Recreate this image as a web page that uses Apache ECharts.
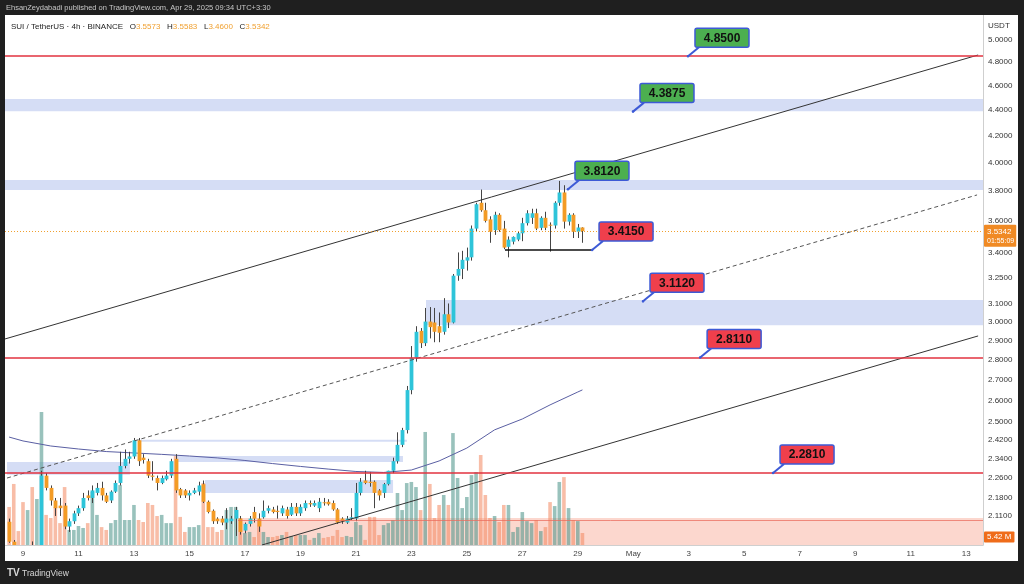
<!DOCTYPE html>
<html>
<head>
<meta charset="utf-8">
<script src="https://cdn.jsdelivr.net/npm/echarts@6/dist/echarts.min.js"></script>
<style>
html,body{margin:0;padding:0;background:#1f1f1f;}
#c{width:1024px;height:584px;}
</style>
</head>
<body>
<div id="c"></div>
<script>
// ---------- DATA ----------
const FIRST_CANDLE = '2025-04-08 12:00';   // 4h candles
const CANDLE_HOURS = 4;
const opens  = [2.088,2.014,1.97,1.93,1.90,1.96,1.94,1.99,2.27,2.22,2.17,2.15,2.15,2.07,2.09,2.12,2.14,2.19,2.18,2.20,2.22,2.19,2.17,2.205,2.24,2.31,2.34,2.35,2.42,2.345,2.33,2.27,2.26,2.24,2.255,2.27,2.34,2.215,2.21,2.19,2.20,2.205,2.235,2.165,2.13,2.10,2.10,2.085,2.09,2.10,2.10,2.055,2.08,2.125,2.10,2.105,2.13,2.135,2.13,2.12,2.135,2.115,2.145,2.12,2.14,2.16,2.15,2.14,2.163,2.165,2.16,2.135,2.10,2.085,2.10,2.10,2.20,2.25,2.245,2.245,2.21,2.20,2.235,2.29,2.33,2.40,2.465,2.65,2.81,2.95,2.885,3.0,2.995,2.975,2.945,3.04,2.995,3.26,3.30,3.35,3.37,3.55,3.72,3.67,3.61,3.54,3.64,3.55,3.435,3.467,3.48,3.52,3.585,3.62,3.65,3.555,3.62,3.575,3.57,3.72,3.79,3.595,3.64,3.53,3.5573];
const highs  = [2.10,2.02,1.99,1.96,1.98,2.015,2.00,2.29,2.28,2.23,2.18,2.18,2.16,2.10,2.13,2.15,2.20,2.21,2.23,2.24,2.245,2.20,2.21,2.25,2.37,2.38,2.37,2.43,2.43,2.36,2.34,2.33,2.27,2.27,2.29,2.34,2.36,2.22,2.215,2.21,2.22,2.245,2.25,2.17,2.135,2.105,2.11,2.14,2.11,2.145,2.11,2.085,2.11,2.145,2.12,2.17,2.15,2.145,2.15,2.15,2.145,2.16,2.16,2.155,2.17,2.17,2.17,2.18,2.18,2.175,2.17,2.14,2.105,2.11,2.14,2.24,2.26,2.29,2.285,2.25,2.215,2.24,2.29,2.345,2.455,2.475,2.67,2.87,2.975,2.965,3.075,3.08,3.075,3.05,3.13,3.10,3.27,3.40,3.41,3.43,3.57,3.72,3.81,3.72,3.63,3.66,3.65,3.60,3.50,3.50,3.53,3.62,3.67,3.68,3.68,3.63,3.66,3.59,3.73,3.87,3.84,3.65,3.65,3.58,3.5583];
const lows   = [2.01,1.95,1.90,1.88,1.89,1.92,1.93,1.98,2.21,2.15,2.11,2.11,2.06,2.05,2.08,2.11,2.13,2.17,2.16,2.19,2.17,2.16,2.16,2.20,2.23,2.30,2.32,2.34,2.31,2.32,2.26,2.25,2.21,2.235,2.25,2.26,2.20,2.18,2.18,2.17,2.195,2.19,2.16,2.12,2.08,2.08,2.075,2.06,2.08,2.035,2.04,2.045,2.07,2.085,2.05,2.10,2.12,2.12,2.10,2.11,2.10,2.11,2.11,2.11,2.13,2.145,2.145,2.125,2.15,2.15,2.13,2.08,2.08,2.08,2.095,2.09,2.19,2.235,2.225,2.14,2.17,2.18,2.23,2.28,2.32,2.39,2.45,2.63,2.79,2.86,2.87,2.91,2.89,2.89,2.93,2.965,2.99,3.23,3.24,3.29,3.35,3.53,3.66,3.59,3.46,3.51,3.53,3.42,3.37,3.45,3.47,3.47,3.57,3.58,3.54,3.54,3.54,3.405,3.55,3.70,3.55,3.57,3.49,3.49,3.46];
const closes = [2.014,1.97,1.93,1.90,1.96,1.94,1.99,2.27,2.22,2.17,2.14,2.14,2.07,2.09,2.12,2.14,2.18,2.18,2.21,2.22,2.19,2.165,2.205,2.24,2.31,2.34,2.35,2.42,2.33,2.335,2.27,2.265,2.24,2.26,2.27,2.33,2.21,2.19,2.19,2.20,2.21,2.23,2.165,2.125,2.09,2.09,2.085,2.10,2.10,2.133,2.05,2.08,2.10,2.10,2.07,2.13,2.14,2.125,2.125,2.14,2.11,2.145,2.12,2.145,2.16,2.155,2.16,2.165,2.16,2.155,2.135,2.085,2.09,2.10,2.105,2.20,2.245,2.24,2.24,2.20,2.19,2.235,2.29,2.33,2.40,2.465,2.65,2.81,2.945,2.885,3.0,2.97,2.945,2.94,3.04,2.995,3.26,3.30,3.355,3.37,3.55,3.71,3.67,3.60,3.53,3.64,3.54,3.43,3.48,3.497,3.52,3.585,3.65,3.65,3.55,3.62,3.555,3.57,3.72,3.79,3.595,3.64,3.53,3.557,3.5342];
const volumes = [17.2,27.6,6.3,19.4,15.8,26.2,20.8,60.1,13.6,12.2,17.2,9.9,26.2,6.8,6.8,8.6,7.7,9.9,24.0,13.6,8.1,6.8,9.9,11.3,27.1,11.3,11.3,18.1,11.3,10.4,19.0,18.1,13.1,13.6,9.9,9.9,40.2,12.7,5.9,8.1,8.1,9.0,28.0,8.1,8.1,5.9,6.8,15.8,17.2,17.2,12.2,5.4,5.9,3.6,11.3,5.9,3.6,3.6,4.1,4.5,5.9,4.1,4.5,4.5,4.5,2.3,3.2,5.4,3.2,3.6,4.1,6.8,3.6,4.1,3.6,10.4,9.0,2.3,12.7,12.7,4.5,9.0,9.9,11.3,23.5,15.8,28.0,28.5,26.2,15.8,51.1,27.6,12.2,18.1,22.6,18.1,50.6,30.3,16.7,21.7,31.6,33.0,40.7,22.6,12.2,13.1,10.4,18.1,18.1,5.9,8.1,14.9,10.8,9.9,11.3,6.3,8.1,19.4,17.6,28.5,30.7,16.7,11.3,10.8,5.42];

const maPoints = [['2025-04-08 12:00',2.434],['2025-04-09 00:00',2.417],['2025-04-10 00:00',2.395],['2025-04-11 00:00',2.382],['2025-04-12 00:00',2.371],['2025-04-13 00:00',2.365],['2025-04-14 00:00',2.359],['2025-04-15 00:00',2.352],['2025-04-16 00:00',2.344],['2025-04-17 00:00',2.333],['2025-04-18 00:00',2.320],['2025-04-19 00:00',2.308],['2025-04-20 00:00',2.297],['2025-04-21 00:00',2.287],['2025-04-22 00:00',2.283],['2025-04-23 00:00',2.293],['2025-04-24 00:00',2.331],['2025-04-25 00:00',2.386],['2025-04-26 00:00',2.466],['2025-04-27 00:00',2.515],['2025-04-28 00:00',2.580],['2025-04-29 00:00',2.641],['2025-04-29 04:00',2.651]];

const priceTicks = [5.0,4.8,4.6,4.4,4.2,4.0,3.8,3.6,3.4,3.25,3.1,3.0,2.9,2.8,2.7,2.6,2.5,2.42,2.34,2.26,2.18,2.11];
const dateTicks = ['2025-04-09','2025-04-11','2025-04-13','2025-04-15','2025-04-17','2025-04-19','2025-04-21','2025-04-23','2025-04-25','2025-04-27','2025-04-29','2025-05-01','2025-05-03','2025-05-05','2025-05-07','2025-05-09','2025-05-11','2025-05-13'];

const redLevels = [4.85, 2.81, 2.281];
const fullBands = [[4.39, 4.489], [3.807, 3.877]];
// [start, end (null = right edge), low, high]
const partBands = [
  ['2025-04-23 12:40', null, 2.98, 3.12],
  ['2025-04-08 10:10', '2025-04-12 20:30', 2.273, 2.327],
  ['2025-04-13 05:15', '2025-04-22 20:10', 2.413, 2.422],
  ['2025-04-14 13:15', '2025-04-22 16:45', 2.327, 2.352],
  ['2025-04-15 13:30', '2025-04-22 08:10', 2.200, 2.252]
];
const salmonZone = ['2025-04-16 18:00', 2.002, 2.102, 2.093];
// trend lines: [t1, p1, t2, p2, style]
const trendLines = [
  ['2025-04-08 08:25', 2.907, '2025-05-13 10:20', 4.861, 'solid'],
  ['2025-04-08 10:10', 2.260, '2025-05-13 09:25', 3.773, 'dashed'],
  ['2025-04-17 14:45', 2.002, '2025-05-13 10:20', 2.923, 'solid'],
  ['2025-04-26 09:00', 3.415, '2025-04-29 11:25', 3.415, 'support']
];
// callouts: [anchor time, anchor price, text, kind]
const callouts = [
  ['2025-05-02 23:20', 4.85,   '4.8500', 'g'],
  ['2025-04-30 23:45', 4.3875, '4.3875', 'g'],
  ['2025-04-28 15:30', 3.812,  '3.8120', 'g'],
  ['2025-04-29 12:20', 3.415,  '3.4150', 'r'],
  ['2025-05-01 08:25', 3.112,  '3.1120', 'r'],
  ['2025-05-03 09:50', 2.811,  '2.8110', 'r'],
  ['2025-05-06 00:55', 2.281,  '2.2810', 'r']
];
const lastPrice = 3.5342, countdown = '01:55:09', lastVolume = 5.42;
const X_MIN = '2025-04-08 08:26', X_MAX = '2025-05-13 14:34';
const Y_MIN = 2.002, Y_MAX = 5.226, VOL_MAX = 239.6;

// ---------- helpers ----------
function T(s){
  const parts = s.split(' ');
  const d = parts[0].split('-').map(Number);
  const hm = (parts[1] || '00:00').split(':').map(Number);
  return Date.UTC(d[0], d[1]-1, d[2], hm[0], hm[1]);
}
const t0 = T(FIRST_CANDLE), step = CANDLE_HOURS*3600e3;
const candleData = opens.map((o,i)=>[t0+i*step, o, highs[i], lows[i], closes[i]]);
const volData = volumes.map((v,i)=>[t0+i*step, v]);
const UP = '#2ec4d9', DOWN = '#f39b25';
const VUP = 'rgba(80,150,140,0.58)', VDOWN = 'rgba(242,135,95,0.55)';
const XMAXV = T(X_MAX);

const bandData = fullBands.map(b=>[{yAxis:b[0]},{yAxis:b[1]}])
  .concat(partBands.map(b=>[{xAxis:T(b[0]), yAxis:b[2]},{xAxis: b[1]?T(b[1]):XMAXV, yAxis:b[3]}]));

const chart = echarts.init(document.getElementById('c'), null, {renderer:'canvas'});
const FONT = 'Liberation Sans, Arial, sans-serif';

const series = [];
series.push({
  type:'line', name:'bands', data:[], z:0, silent:true,
  markArea:{silent:true, itemStyle:{color:'rgba(150,170,230,0.4)'}, data: bandData}
});
series.push({
  type:'line', name:'salmon', data:[], z:0, silent:true,
  markArea:{silent:true, itemStyle:{color:'rgba(245,135,105,0.33)'},
    data:[[{xAxis:T(salmonZone[0]), yAxis:salmonZone[1]},{xAxis:XMAXV, yAxis:salmonZone[2]}]]},
  markLine:{silent:true, symbol:['none','none'], label:{show:false},
    lineStyle:{color:'rgba(235,110,95,0.75)', width:1, type:'solid'},
    data:[[{coord:[T(salmonZone[0]), salmonZone[3]]},{coord:[XMAXV, salmonZone[3]]}]]}
});
series.push({
  type:'bar', name:'vol', yAxisIndex:1, data: volData, barWidth:3.6, z:1, silent:true,
  itemStyle:{color: p => closes[p.dataIndex] >= opens[p.dataIndex] ? VUP : VDOWN},
  markLine:{silent:true, symbol:['none','none'],
    data:[{yAxis:lastVolume, lineStyle:{color:'rgba(0,0,0,0)', width:0.5},
      label:{show:true, position:'end', distance:1, offset:[0,4], formatter: lastVolume.toFixed(2)+' M',
      backgroundColor:'#ef6c1a', color:'#fff', fontSize:8, fontFamily:FONT, padding:[2,3,1,3], borderRadius:1}}]}
});
series.push({
  type:'custom', name:'candles', data: candleData, z:3, clip:true, silent:true,
  encode:{x:0, y:[1,2,3,4]},
  renderItem:(params, api)=>{
    const t=api.value(0), o=api.value(1), h=api.value(2), l=api.value(3), c=api.value(4);
    const pO=api.coord([t,o]), pC=api.coord([t,c]), pH=api.coord([t,h]), pL=api.coord([t,l]);
    const x = Math.round(pO[0]) + 0.5, w = 3.8;
    const top = Math.min(pO[1], pC[1]), hgt = Math.max(1, Math.abs(pO[1]-pC[1]));
    return {type:'group', children:[
      {type:'line', shape:{x1:x, y1:pH[1], x2:x, y2:pL[1]}, style:{stroke:'#444', lineWidth:1}},
      {type:'rect', shape:{x:x-w/2, y:top, width:w, height:hgt}, style:{fill: c>=o?UP:DOWN}}
    ]};
  }
});
series.push({
  type:'line', name:'ma', data: maPoints.map(p=>[T(p[0]), p[1]]), z:2, symbol:'none', silent:true,
  lineStyle:{color:'#5a5fa3', width:1}
});
trendLines.forEach(l=>{
  const st = l[4];
  series.push({
    type:'line', data:[[T(l[0]), l[1]],[T(l[2]), l[3]]], z:4, symbol:'none', silent:true,
    lineStyle: st==='dashed' ? {color:'#555', width:1, type:[4,3]} :
               st==='support' ? {color:'#111', width:1.5} : {color:'#333', width:1}
  });
});
series.push({
  type:'line', name:'levels', data:[], z:4, silent:true,
  markLine:{silent:true, symbol:['none','none'],
    data: redLevels.map(v=>({yAxis:v, label:{show:false}, lineStyle:{color:'#e2323f', width:1.6, type:'solid'}}))
      .concat([{yAxis:lastPrice, lineStyle:{color:'#f0a030', width:1, type:[1,2]},
        label:{show:true, position:'end', distance:1, offset:[0,4], formatter:'{p|'+lastPrice.toFixed(4)+'}\n{c|'+countdown+'}',
          backgroundColor:'#f08a24', padding:[2,2,1,3], borderRadius:1,
          rich:{p:{color:'#fff', fontSize:8, fontFamily:FONT, lineHeight:10},
                c:{color:'#fff', fontSize:7, fontFamily:FONT, lineHeight:9}}}}])
  }
});
series.push({
  type:'custom', name:'callouts', data: callouts.map(c=>[T(c[0]), c[1]]), z:6, clip:false, silent:true,
  encode:{x:0, y:1},
  renderItem:(params, api)=>{
    const p = api.coord([api.value(0), api.value(1)]);
    const c = callouts[params.dataIndex];
    const fill = c[3]==='g' ? '#4caf50' : '#ef3f4c';
    const bx = p[0]+7, by = p[1]-28, bw = 54, bh = 19;
    return {type:'group', children:[
      {type:'line', shape:{x1:p[0], y1:p[1], x2:bx+4, y2:by+bh}, style:{stroke:'#3d5ad6', lineWidth:2}},
      {type:'circle', shape:{cx:p[0], cy:p[1], r:1.3}, style:{fill:'#3d5ad6'}},
      {type:'rect', shape:{x:bx, y:by, width:bw, height:bh, r:2}, style:{fill:fill, stroke:'#3d5ad6', lineWidth:1.5}},
      {type:'text', style:{text:c[2], x:bx+bw/2, y:by+bh/2+0.5, align:'center', verticalAlign:'middle',
        font:'bold 12px '+FONT, fill:'#111'}}
    ]};
  }
});

const option = {
  backgroundColor:'#ffffff',
  animation:false,
  grid:{left:5, right:41, top:15, bottom:39, containLabel:false},
  xAxis:{type:'value', min:T(X_MIN), max:XMAXV, scale:true,
    axisLine:{show:true, lineStyle:{color:'#cfcfcf'}}, axisTick:{show:false}, splitLine:{show:false},
    axisLabel:{customValues: dateTicks.map(T), fontSize:8, color:'#444', fontFamily:FONT, margin:5,
      formatter: v=>{const d=new Date(v); return d.getUTCDate()===1 ? 'May' : String(d.getUTCDate());}}},
  yAxis:[
    {type:'log', logBase:10, min:Y_MIN, max:Y_MAX, position:'right',
      axisLine:{show:true, lineStyle:{color:'#cfcfcf'}}, axisTick:{show:false}, splitLine:{show:false}, minorTick:{show:false},
      axisLabel:{customValues: priceTicks, fontSize:8, color:'#333', fontFamily:FONT, margin:5,
        formatter: v=>Number(v).toFixed(4)}},
    {type:'value', min:0, max:VOL_MAX, show:false, splitLine:{show:false}}
  ],
  series: series,
  graphic:[
    {type:'rect', shape:{x:0, y:0, width:1024, height:15}, style:{fill:'#1f1f1f'}, z:100, silent:true},
    {type:'rect', shape:{x:0, y:561, width:1024, height:23}, style:{fill:'#1f1f1f'}, z:100, silent:true},
    {type:'rect', shape:{x:0, y:0, width:5, height:584}, style:{fill:'#1f1f1f'}, z:100, silent:true},
    {type:'rect', shape:{x:1018, y:0, width:6, height:584}, style:{fill:'#1f1f1f'}, z:100, silent:true},
    {type:'text', x:6, y:4, z:101, silent:true, style:{text:'EhsanZeydabadi published on TradingView.com, Apr 29, 2025 09:34 UTC+3:30', fill:'#c8c8c8', font:'7.5px '+FONT}},
    {type:'rect', shape:{x:984, y:16, width:33, height:18}, style:{fill:'#fff'}, z:99, silent:true},
    {type:'text', x:988, y:22, z:101, silent:true, style:{text:'USDT', fill:'#333', font:'8px '+FONT}},
    {type:'text', x:11, y:21, z:101, silent:true, style:{
      text:'{a|SUI / TetherUS · 4h · BINANCE}  {a|O}{o|3.5573}  {a|H}{o|3.5583}  {a|L}{o|3.4600}  {a|C}{o|3.5342}',
      rich:{a:{fill:'#222', font:'8px '+FONT}, o:{fill:'#f0a030', font:'8px '+FONT}}}},
    {type:'text', x:7, y:568, z:101, silent:true, style:{text:'TV', fill:'#d8d8d8', font:'bold 10px '+FONT}},
    {type:'text', x:22, y:569, z:101, silent:true, style:{text:'TradingView', fill:'#d8d8d8', font:'8.5px '+FONT}}
  ]
};
chart.setOption(option);
</script>
</body>
</html>
